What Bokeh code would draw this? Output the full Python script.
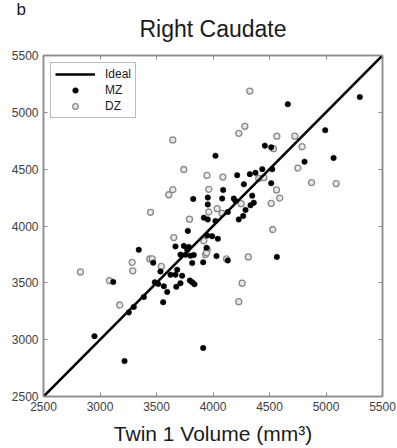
from bokeh.plotting import figure
from bokeh.models import (Range1d, LinearAxis, FixedTicker, Legend, LegendItem,
                          Title, CustomJSTickFormatter, ColumnDataSource)
from bokeh.embed import file_html
from bokeh.resources import INLINE

# ---- data ----
mz_x = [2951, 3217, 3117, 3255, 3299, 3388, 3343, 3471, 3485, 3515, 3565, 3595, 3559,
        3535, 3624, 3668, 3727, 3683, 3675, 3712, 3795, 3816, 3836, 3668, 3742, 3786,
        3772, 3830, 3712, 3757, 3801, 3816, 3777, 3825, 3954, 3954, 3919, 3954, 3943,
        3913, 3913, 3949, 3993, 4043, 4031, 4131, 4565, 4022, 4228, 4267, 4288, 4131,
        4332, 4361, 4184, 4199, 4347, 4081, 4090, 4273, 4515, 4214, 4326, 4376, 4436,
        4524, 4022, 4459, 4515, 4662, 5299, 4993, 4810, 5067]
mz_y = [3031, 2812, 3508, 3240, 3288, 3375, 3790, 3677, 3505, 3490, 3470, 3420, 3330,
        3600, 3571, 3571, 3562, 3615, 3465, 3497, 3520, 3505, 3488, 3820, 3825, 3816,
        3792, 3745, 3748, 3748, 3739, 3674, 3957, 4238, 4250, 4190, 4073, 4058, 3808,
        3680, 2927, 3916, 3910, 3887, 3735, 3697, 3728, 4044, 4058, 4088, 4141, 4123,
        4182, 4205, 4241, 4220, 4267, 4241, 4317, 4367, 4376, 4447, 4456, 4468, 4500,
        4500, 4618, 4707, 4692, 5072, 5134, 4843, 4565, 4598]

dz_x = [2827, 3084, 3175, 3285, 3290, 3441, 3462, 3447, 3542, 3609, 3645, 3653, 3792,
        3644, 3742, 3947, 4087, 3963, 3963, 3934, 3949, 3919, 3943, 4120, 4312, 4258,
        4228, 4529, 4037, 4081, 4249, 4515, 4562, 4591, 4405, 4450, 4872, 5090, 4751,
        4789, 4535, 4565, 4724, 4228, 4282, 4326]
dz_y = [3596, 3520, 3305, 3680, 3606, 3710, 3710, 4120, 3644, 4275, 4320, 3898, 4060,
        4757, 4497, 4445, 4430, 4323, 4123, 3748, 3792, 3870, 3764, 3710, 3728, 3497,
        3334, 3969, 4152, 4111, 4196, 4199, 4317, 4246, 4418, 4426, 4382, 4373, 4510,
        4698, 4680, 4790, 4790, 4815, 4877, 5187]

ideal_x = [2500, 5500]
ideal_y = [2500, 5500]
ticks = [2500, 3000, 3500, 4000, 4500, 5000, 5500]

title_text = "Right Caudate"
panel_text = "b"
xlabel_text = "Twin 1 Volume (mm\u00b3)"

FONT = "Liberation Sans"
AXIS_GRAY = "#8c8c8c"
TICK_TXT = "#404040"

p = figure(width=397, height=448,
           x_range=Range1d(2500, 5500), y_range=Range1d(2500, 5500),
           output_backend="svg", toolbar_location=None,
           min_border_left=43, min_border_right=15,
           min_border_top=55, min_border_bottom=52)

p.xgrid.visible = False
p.ygrid.visible = False
p.outline_line_color = AXIS_GRAY
p.outline_line_width = 1.5
p.background_fill_color = "white"
p.border_fill_color = "white"

xb = p.below[0]
yl = p.left[0]
xt = LinearAxis()
yr = LinearAxis()
p.add_layout(xt, "above")
p.add_layout(yr, "right")

t_main = Title(text=title_text, align="center", text_font=FONT,
               text_font_size="23px", text_font_style="normal",
               text_color="#1a1a1a", standoff=27)
p.add_layout(t_main, "above")
t_b = Title(text=panel_text, align="left", offset=-27, text_font=FONT,
            text_font_size="17px", text_font_style="normal",
            text_color="#1a1a1a", standoff=-37)
p.add_layout(t_b, "above")

for ax in (xb, yl, xt, yr):
    ax.ticker = FixedTicker(ticks=ticks)
    ax.axis_line_color = AXIS_GRAY
    ax.axis_line_width = 1.5
    ax.major_tick_line_color = AXIS_GRAY
    ax.major_tick_line_width = 1
    ax.major_tick_in = 4
    ax.major_tick_out = 0
    ax.minor_tick_line_color = None
    ax.major_label_text_font = FONT
    ax.major_label_text_font_size = "12px"
    ax.major_label_text_color = TICK_TXT

for ax in (xt, yr):
    ax.formatter = CustomJSTickFormatter(code="return ''")
    ax.major_label_standoff = 0
    ax.major_label_text_font_size = "1px"

yl.major_label_standoff = 5
xb.major_label_standoff = 5
xb.axis_label = xlabel_text
xb.axis_label_text_font = FONT
xb.axis_label_text_font_size = "21px"
xb.axis_label_text_font_style = "normal"
xb.axis_label_text_color = "#1a1a1a"
xb.axis_label_standoff = 8

dz_src = ColumnDataSource(dict(x=dz_x, y=dz_y))
mz_src = ColumnDataSource(dict(x=mz_x, y=mz_y))
line_src = ColumnDataSource(dict(x=ideal_x, y=ideal_y))

dz_r = p.scatter("x", "y", source=dz_src, size=6, marker="circle",
                 fill_color="#e8e8e8", line_color="#888888", line_width=1.3)
mz_r = p.scatter("x", "y", source=mz_src, size=5.5, marker="circle",
                 fill_color="black", line_color="black", line_width=0.5)
line_r = p.line("x", "y", source=line_src, line_color="black", line_width=2.6)

legend = Legend(items=[LegendItem(label="Ideal", renderers=[line_r]),
                       LegendItem(label="MZ", renderers=[mz_r]),
                       LegendItem(label="DZ", renderers=[dz_r])],
                location="top_left")
legend.margin = 7
legend.padding = 4
legend.spacing = 2
legend.glyph_height = 14
legend.label_height = 14
legend.glyph_width = 40
legend.label_standoff = 10
legend.label_text_font = FONT
legend.label_text_font_size = "12px"
legend.label_text_color = "#1a1a1a"
legend.border_line_color = "#7a7a7a"
legend.border_line_width = 1.5
legend.background_fill_color = "white"
legend.background_fill_alpha = 1
p.add_layout(legend, "center")

open("out.html", "w").write(file_html(p, INLINE))
